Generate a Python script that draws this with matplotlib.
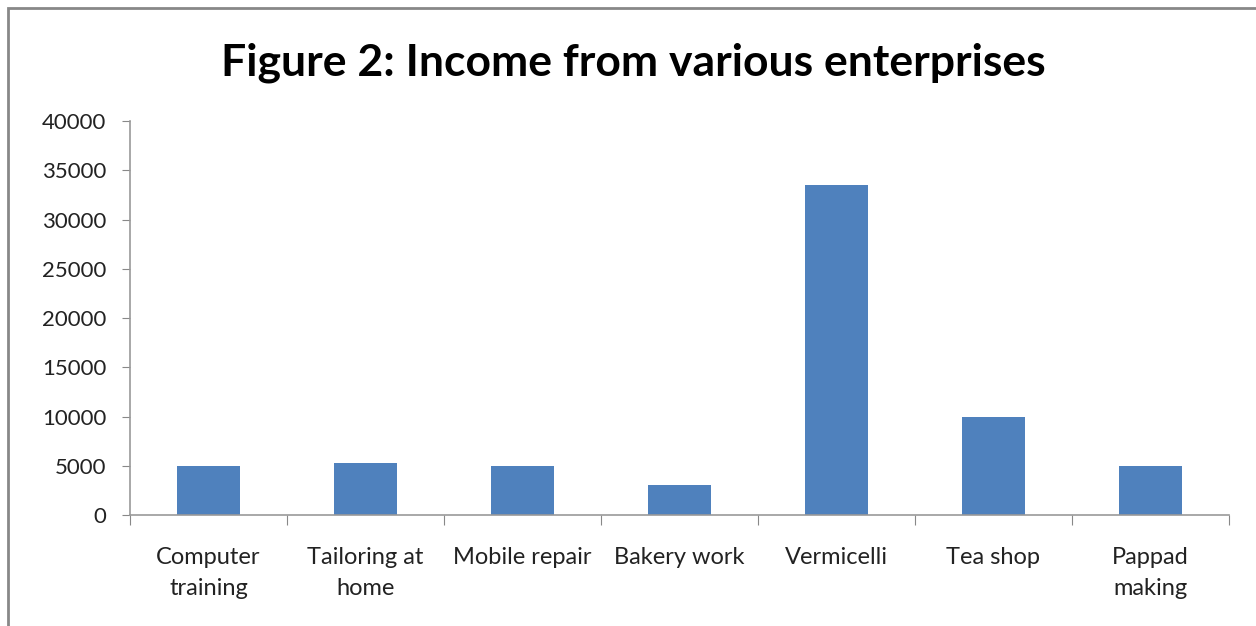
import numpy as np
import matplotlib.pyplot as plt
from matplotlib.patches import Rectangle

# Data
categories = ["Computer\ntraining", "Tailoring at\nhome", "Mobile repair", "Bakery work",
              "Vermicelli", "Tea shop", "Pappad\nmaking"]
income = [5000, 5250, 5000, 3000, 33500, 10000, 5000]

plt.rcParams['font.family'] = ['Lato', 'DejaVu Sans']

fig = plt.figure(figsize=(12.56, 6.26), dpi=100)
ax = fig.add_axes([0.1035, 0.1773, 0.875, 0.6294])

x = np.arange(len(categories))
ax.bar(x, income, width=0.4, color='#4f81bd', zorder=2)

ax.set_xlim(-0.5, len(categories) - 0.5)
ax.set_ylim(0, 40000)
ax.set_yticks(np.arange(0, 40001, 5000))
ax.tick_params(axis='y', labelsize=16, colors='#888888', labelcolor='#222222', length=6, pad=11)

# category boundaries as major ticks, labels on minor ticks at centres
ax.set_xticks(np.arange(-0.5, len(categories), 1))
ax.set_xticklabels([])
ax.set_xticks(x, minor=True)
ax.set_xticklabels(categories, minor=True, fontsize=17, color='#222222', linespacing=1.6)
ax.tick_params(axis='x', which='major', length=7, colors='#888888')
ax.tick_params(axis='x', which='minor', length=0, pad=23)

for s in ['top', 'right']:
    ax.spines[s].set_visible(False)
for s in ['left', 'bottom']:
    ax.spines[s].set_color('#999999')
    ax.spines[s].set_linewidth(1.2)

fig.text(0.504, 0.90, "Figure 2: Income from various enterprises", ha='center', va='center',
         fontsize=32, fontweight='bold', color='black')

# outer chart border
fig.patches.append(Rectangle((8 / 1256, -0.1), 1.2, 1.1 - 8 / 626, transform=fig.transFigure,
                             fill=False, edgecolor='#888888', linewidth=2.0))

fig.savefig('out.png', dpi=100)
